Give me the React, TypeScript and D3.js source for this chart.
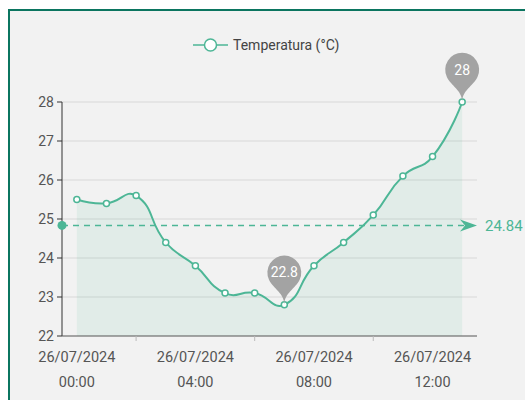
import * as d3 from 'd3';

// dados
const hours = ['00:00', '01:00', '02:00', '03:00', '04:00', '05:00', '06:00', '07:00', '08:00', '09:00', '10:00', '11:00', '12:00', '13:00'];
const day = '26/07/2024';
const temps = [25.5, 25.4, 25.6, 24.4, 23.8, 23.1, 23.1, 22.8, 23.8, 24.4, 25.1, 26.1, 26.6, 28];
const yTicks = [22, 23, 24, 25, 26, 27, 28];
const labelIdx = [0, 4, 8, 12];
const tickIdx = [2, 6, 10];

const W = 525;
const H = 400;
const green = '#4db696';
const margin = { top: 102, bottom: 64, left: 62, right: 48 };

// curva suave no estilo do echarts
function smoothPath(pts: [number, number][], smooth = 0.5) {
  let d = `M${pts[0][0]},${pts[0][1]}`;
  const cps = pts.map((p, i) => {
    const prev = pts[Math.max(0, i - 1)];
    const next = pts[Math.min(pts.length - 1, i + 1)];
    if (i === 0 || i === pts.length - 1) return { a: p, b: p };
    const vx = next[0] - prev[0];
    const vy = next[1] - prev[1];
    const l0 = Math.hypot(p[0] - prev[0], p[1] - prev[1]);
    const l1 = Math.hypot(next[0] - p[0], next[1] - p[1]);
    const r = l1 / (l0 + l1);
    return {
      a: [p[0] - vx * smooth * (1 - r), p[1] - vy * smooth * (1 - r)],
      b: [p[0] + vx * smooth * r, p[1] + vy * smooth * r],
    };
  });
  for (let i = 0; i < pts.length - 1; i++) {
    const c1 = cps[i].b;
    const c2 = cps[i + 1].a;
    const p = pts[i + 1];
    d += `C${c1[0]},${c1[1]},${c2[0]},${c2[1]},${p[0]},${p[1]}`;
  }
  return d;
}

// marcador "pin"
function pinPath(x: number, y: number, size: number) {
  const w = (size / 5) * 3;
  const h = Math.max(w, size);
  const r = w / 2;
  const dy = (r * r) / (h - r);
  const cy = y - h + r + dy;
  const angle = Math.asin(dy / r);
  const dx = Math.cos(angle) * r;
  const tanX = Math.sin(angle);
  const tanY = Math.cos(angle);
  const cpLen = r * 0.6;
  const cpLen2 = r * 0.7;
  const path = d3.path();
  path.moveTo(x - dx, cy + dy);
  path.arc(x, cy, r, Math.PI - angle, Math.PI * 2 + angle);
  path.bezierCurveTo(x + dx - tanX * cpLen, cy + dy + tanY * cpLen, x, y - cpLen2, x, y);
  path.bezierCurveTo(x, y - cpLen2, x - dx + tanX * cpLen, cy + dy + tanY * cpLen, x - dx, cy + dy);
  path.closePath();
  return { d: path.toString(), cy };
}

export default function App() {
  const x = d3.scaleBand().domain(hours).range([margin.left, W - margin.right]).padding(0);
  const y = d3.scaleLinear().domain([22, 28]).range([H - margin.bottom, margin.top]);
  const cx = (h: string) => (x(h) as number) + x.bandwidth() / 2;

  const pts: [number, number][] = temps.map((t, i) => [cx(hours[i]), y(t)]);
  const line = smoothPath(pts);
  const base = y(22);
  const area = `${line}L${pts[pts.length - 1][0]},${base}L${pts[0][0]},${base}Z`;

  const avg = d3.mean(temps) as number;
  const maxI = d3.maxIndex(temps);
  const minI = d3.minIndex(temps);
  const x0 = margin.left;
  const x1 = W - margin.right;

  const pins = [maxI, minI].map((i) => {
    const p = pinPath(pts[i][0], pts[i][1], 56.5);
    return { ...p, x: pts[i][0], v: temps[i] };
  });

  return (
    <svg width={W} height={H} style={{ position: 'fixed', left: 0, top: 0, fontFamily: 'Roboto, sans-serif' }}>
      <rect x={0} y={0} width={W} height={H} fill="#fff" />
      <rect x={9} y={10} width={W} height={H} fill="#f2f2f2" stroke="#0b7560" strokeWidth={2} />

      {/* legenda */}
      <line x1={193} x2={228} y1={45} y2={45} stroke={green} strokeWidth={1.5} />
      <circle cx={210.5} cy={45} r={6} fill="#fff" stroke={green} strokeWidth={1.5} />
      <text x={233} y={50} fontSize={14} fill="#444">Temperatura (°C)</text>

      {/* grade */}
      {yTicks.slice(1).map((t) => (
        <line key={t} x1={x0} x2={x1} y1={y(t)} y2={y(t)} stroke="#d8d8d8" strokeWidth={1} />
      ))}

      <path d={area} fill={green} fillOpacity={0.1} />
      <path d={line} fill="none" stroke={green} strokeWidth={2} />

      {/* eixos */}
      <line x1={x0} x2={x0} y1={y(28)} y2={base} stroke="#333" />
      {yTicks.map((t) => (
        <g key={t}>
          <line x1={x0 - 5} x2={x0} y1={y(t)} y2={y(t)} stroke="#333" />
          <text x={x0 - 8} y={y(t)} dy="0.35em" textAnchor="end" fontSize={14} fill="#555">{t}</text>
        </g>
      ))}
      <line x1={x0} x2={x1} y1={base} y2={base} stroke="#555" />
      {tickIdx.map((i) => (
        <line key={i} x1={cx(hours[i])} x2={cx(hours[i])} y1={base} y2={base + 5} stroke="#bbb" />
      ))}
      {labelIdx.map((i) => (
        <text key={i} x={cx(hours[i])} y={base} textAnchor="middle" fontSize={14.5} fill="#555">
          <tspan x={cx(hours[i])} dy={26}>{day}</tspan>
          <tspan x={cx(hours[i])} dy={25}>{hours[i]}</tspan>
        </text>
      ))}

      {/* linha média */}
      <line x1={x0} x2={x1 - 12} y1={y(avg)} y2={y(avg)} stroke={green} strokeWidth={1.5} strokeDasharray="6,5" />
      <circle cx={x0} cy={y(avg)} r={4.5} fill={green} />
      <path d={`M${x1},${y(avg)}L${x1 - 17},${y(avg) - 6}L${x1 - 12},${y(avg)}L${x1 - 17},${y(avg) + 6}Z`} fill={green} />
      <text x={x1 + 8} y={y(avg)} dy="0.35em" fontSize={15} fill={green}>{avg.toFixed(2)}</text>

      {pts.map((p, i) => (
        <circle key={i} cx={p[0]} cy={p[1]} r={3} fill="#fff" stroke={green} strokeWidth={1.5} />
      ))}

      {/* máximo e mínimo */}
      {pins.map((p, i) => (
        <g key={i}>
          <path d={p.d} fill="#a3a3a3" />
          <text x={p.x} y={p.cy} dy="0.35em" textAnchor="middle" fontSize={14} fill="#fff">{p.v}</text>
        </g>
      ))}
    </svg>
  );
}
